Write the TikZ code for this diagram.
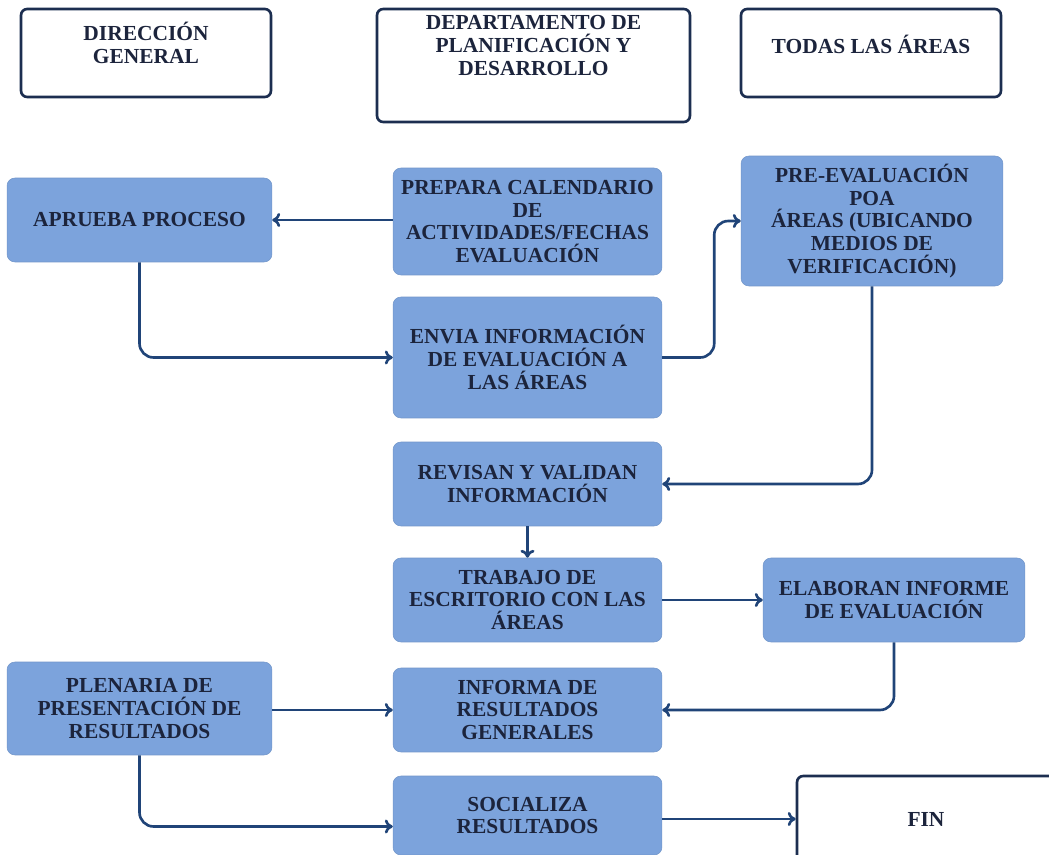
\documentclass[tikz,border=0pt]{standalone}
\usepackage{fontspec}
\setmainfont{Liberation Serif}
\usetikzlibrary{arrows.meta,calc}
\definecolor{boxblue}{RGB}{124,163,220}
\definecolor{txtnavy}{RGB}{28,36,60}
\definecolor{arrnavy}{RGB}{32,68,120}
\definecolor{hdrline}{RGB}{28,46,80}
\tikzset{
  bluebox/.style={fill=boxblue, draw=boxblue!92!black, line width=0.3pt, rounded corners=4.5pt,
    align=center, text=txtnavy, inner sep=1pt,
    font=\bfseries\fontsize{12.2}{13}\selectfont},
  hdrbox/.style={draw=hdrline, line width=1.5pt, rounded corners=3.5pt, fill=white},
  hdrtxt/.style={align=center, text=txtnavy, inner sep=0pt,
    font=\bfseries\fontsize{12.2}{13}\selectfont},
  conn/.style={draw=arrnavy, line width=1.5pt, rounded corners=8pt, -{To[length=4.5pt,width=8pt]}}
}
\begin{document}
\begin{tikzpicture}[x=0.02cm,y=-0.02cm]
\clip (0,0) rectangle (1049,855);
\fill[white] (0,0) rectangle (1049,855);
% headers
\node[hdrbox, minimum width=5.0cm, minimum height=1.76cm] (dg) at (146,53) {};
\node[hdrtxt] (dgt) at ($(dg.center)+(0,-10)$) {DIRECCIÓN\\GENERAL};
\node[hdrbox, minimum width=6.26cm, minimum height=2.26cm] (dp) at (533.5,65.5) {};
\node[hdrtxt] (dpt) at ($(dp.center)+(0,-20)$) {DEPARTAMENTO DE\\PLANIFICACIÓN Y\\DESARROLLO};
\node[hdrbox, minimum width=5.2cm, minimum height=1.76cm] (ta) at (871,53) {};
\node[hdrtxt] (tat) at ($(ta.center)+(0,-9)$) {TODAS LAS ÁREAS};
% process boxes
\node[bluebox, minimum width=5.3cm, minimum height=1.68cm] (ap) at (139.5,220) {APRUEBA PROCESO};
\node[bluebox, minimum width=5.38cm, minimum height=2.14cm] (pc) at (527.5,221.5) {PREPARA CALENDARIO\\DE\\ACTIVIDADES/FECHAS\\EVALUACIÓN};
\node[bluebox, minimum width=5.24cm, minimum height=2.6cm] (pe) at (872,221) {PRE-EVALUACIÓN\\POA\\ÁREAS (UBICANDO\\MEDIOS DE\\VERIFICACIÓN)};
\node[bluebox, minimum width=5.38cm, minimum height=2.42cm] (en) at (527.5,357.5) {ENVIA INFORMACIÓN\\DE EVALUACIÓN A\\LAS ÁREAS};
\node[bluebox, minimum width=5.38cm, minimum height=1.68cm] (rv) at (527.5,484) {REVISAN Y VALIDAN\\INFORMACIÓN};
\node[bluebox, minimum width=5.38cm, minimum height=1.68cm] (tr) at (527.5,600) {TRABAJO DE\\ESCRITORIO CON LAS\\ÁREAS};
\node[bluebox, minimum width=5.24cm, minimum height=1.68cm] (el) at (894,600) {ELABORAN INFORME\\DE EVALUACIÓN};
\node[bluebox, minimum width=5.3cm, minimum height=1.86cm] (pl) at (139.5,708.5) {PLENARIA DE\\PRESENTACIÓN DE\\RESULTADOS};
\node[bluebox, minimum width=5.38cm, minimum height=1.68cm] (in) at (527.5,710) {INFORMA DE\\RESULTADOS\\GENERALES};
\node[bluebox, minimum width=5.38cm, minimum height=1.58cm] (so) at (527.5,815.5) {SOCIALIZA\\RESULTADOS};
\node[hdrbox, hdrtxt, minimum width=5.16cm, minimum height=1.72cm] (fin) at (926,819) {FIN};
% connectors
\draw[conn] (pc.west |- ap.east) -- (ap.east);
\draw[conn] (ap.south) |- (en.west);
\draw[conn] (en.east) -- ++(52,0) |- (pe.west);
\draw[conn] (pe.south) |- (rv.east);
\draw[conn] (rv.south) -- (tr.north);
\draw[conn] (tr.east) -- (el.west);
\draw[conn] (el.south) |- (in.east);
\draw[conn] (pl.east |- in.west) -- (in.west);
\coordinate (soin) at ($(so.west)+(0,11)$);
\draw[conn] (pl.south) |- (soin);
\draw[conn] (so.east |- fin.west) -- (fin.west);
\end{tikzpicture}
\end{document}
